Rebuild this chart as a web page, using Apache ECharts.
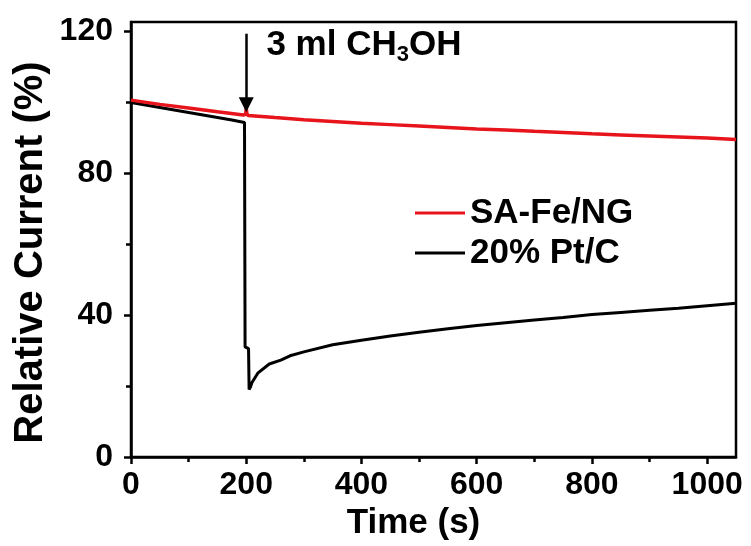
<!DOCTYPE html>
<html>
<head>
<meta charset="utf-8">
<script src="https://cdn.jsdelivr.net/npm/echarts@6/dist/echarts.min.js"></script>
<style>html,body{margin:0;padding:0;background:#fff}#c{width:751px;height:546px}</style>
</head>
<body>
<div id="c"></div>
<script>
// ---- data ----
const redTime = [0, 50, 100, 150, 195, 199, 200, 201, 203, 250, 300, 350, 400, 450, 500, 550, 600, 650, 700, 750, 800, 850, 900, 950, 1000, 1050];
const redCurrent = [100.5, 99.3, 98.3, 97.2, 96.3, 96.5, 98.3, 96.8, 96.2, 95.6, 95.0, 94.5, 94.0, 93.6, 93.2, 92.8, 92.4, 92.1, 91.7, 91.4, 91.0, 90.7, 90.4, 90.1, 89.8, 89.4];
const blackTime = [0, 25, 50, 75, 100, 125, 150, 175, 197, 198, 204, 205, 207, 210, 220, 240, 260, 276, 300, 350, 400, 450, 500, 550, 600, 650, 700, 750, 800, 850, 900, 950, 1000, 1050];
const blackCurrent = [99.8, 99.1, 98.4, 97.7, 97.0, 96.3, 95.6, 94.9, 94.2, 31.0, 30.5, 19.0, 19.6, 21.0, 23.6, 26.2, 27.3, 28.5, 29.6, 31.6, 32.9, 34.1, 35.1, 36.1, 37.0, 37.8, 38.6, 39.3, 40.1, 40.7, 41.3, 41.9, 42.6, 43.3];
const seriesNames = ['SA-Fe/NG', '20% Pt/C'];
const xMajorTicks = [0, 200, 400, 600, 800, 1000];
const xMinorTicks = [100, 300, 500, 700, 900];
const yMajorTicks = [0, 40, 80, 120];
const yMinorTicks = [20, 60, 100];
const injectTime = 200;
const arrowFrom = 119.2, arrowTo = 99.2;

const FONT = '"Liberation Sans", Arial, Helvetica, sans-serif';
const zip = (a, b) => a.map((v, i) => [v, b[i]]);

const chart = echarts.init(document.getElementById('c'), null, {renderer: 'canvas'});
const gridRect = {left: 131, right: 15, top: 22, bottom: 89};
chart.setOption({
  animation: false,
  backgroundColor: '#fff',
  grid: [
    Object.assign({show: true, borderColor: '#000', borderWidth: 2.5, backgroundColor: 'transparent'}, gridRect),
    Object.assign({show: false}, gridRect)
  ],
  legend: {
    orient: 'vertical', left: 410, top: 188,
    itemWidth: 50, itemHeight: 3, itemGap: 0,
    textStyle: {fontFamily: FONT, fontWeight: 'bold', fontSize: 35, color: '#000', lineHeight: 40},
    data: [
      {name: seriesNames[0], icon: 'rect'},
      {name: seriesNames[1], icon: 'rect'}
    ]
  },
  xAxis: [{
    type: 'value', gridIndex: 0, min: 0, max: 1050,
    name: 'Time (s)', nameLocation: 'middle', nameGap: 46,
    nameTextStyle: {fontFamily: FONT, fontWeight: 'bold', fontSize: 35, color: '#000', padding: [0, 40, 0, 0]},
    axisLine: {show: true, lineStyle: {color: '#000', width: 2.5}},
    axisTick: {show: true, length: 7, lineStyle: {color: '#000', width: 2.5}, customValues: xMajorTicks},
    axisLabel: {fontFamily: FONT, fontWeight: 'bold', fontSize: 32, color: '#000', margin: 12, customValues: xMajorTicks, formatter: v => String(v)},
    splitLine: {show: false}
  }, {
    type: 'value', gridIndex: 1, min: 0, max: 1050,
    axisLine: {show: false},
    axisTick: {show: true, length: 5, lineStyle: {color: '#000', width: 2.5}, customValues: xMinorTicks},
    axisLabel: {show: false},
    splitLine: {show: false}
  }],
  yAxis: [{
    type: 'value', gridIndex: 0, min: 0, max: 122.5,
    name: 'Relative Current (%)', nameLocation: 'middle', nameGap: 80, nameMoveOverlap: false,
    nameTextStyle: {fontFamily: FONT, fontWeight: 'bold', fontSize: 40, color: '#000', padding: [0, 26, 0, 0]},
    axisLine: {show: true, lineStyle: {color: '#000', width: 2.5}},
    axisTick: {show: true, length: 7, lineStyle: {color: '#000', width: 2.5}, customValues: yMajorTicks},
    axisLabel: {fontFamily: FONT, fontWeight: 'bold', fontSize: 32, color: '#000', margin: 18, customValues: yMajorTicks, formatter: v => String(v)},
    splitLine: {show: false}
  }, {
    type: 'value', gridIndex: 1, min: 0, max: 122.5,
    axisLine: {show: false},
    axisTick: {show: true, length: 5, lineStyle: {color: '#000', width: 2.5}, customValues: yMinorTicks},
    axisLabel: {show: false},
    splitLine: {show: false}
  }],
  series: [{
    name: seriesNames[1], type: 'line', xAxisIndex: 0, yAxisIndex: 0,
    data: zip(blackTime, blackCurrent), showSymbol: false, smooth: false,
    lineStyle: {color: '#000', width: 3}, itemStyle: {color: '#000'}, z: 2
  }, {
    name: seriesNames[0], type: 'line', xAxisIndex: 0, yAxisIndex: 0,
    data: zip(redTime, redCurrent), showSymbol: false, smooth: false,
    lineStyle: {color: '#e8141c', width: 3.5}, itemStyle: {color: '#e8141c'}, z: 3,
    markLine: {
      silent: true, animation: false,
      symbol: ['none', 'triangle'], symbolSize: 15,
      lineStyle: {color: '#000', width: 2.5, type: 'solid'},
      label: {show: false},
      data: [[{coord: [injectTime, arrowFrom]}, {coord: [injectTime, arrowTo]}]]
    },
    markPoint: {
      silent: true, animation: false,
      symbol: 'circle', symbolSize: 0,
      data: [{coord: [235, 116]}],
      label: {
        show: true, position: 'right', distance: 0,
        formatter: '{a|3 ml CH}{b|3}{a|OH}',
        rich: {
          a: {fontFamily: FONT, fontWeight: 'bold', fontSize: 35, color: '#000'},
          b: {fontFamily: FONT, fontWeight: 'bold', fontSize: 22, color: '#000', padding: [20, 0, 0, 0]}
        }
      }
    }
  }]
});
</script>
</body>
</html>
